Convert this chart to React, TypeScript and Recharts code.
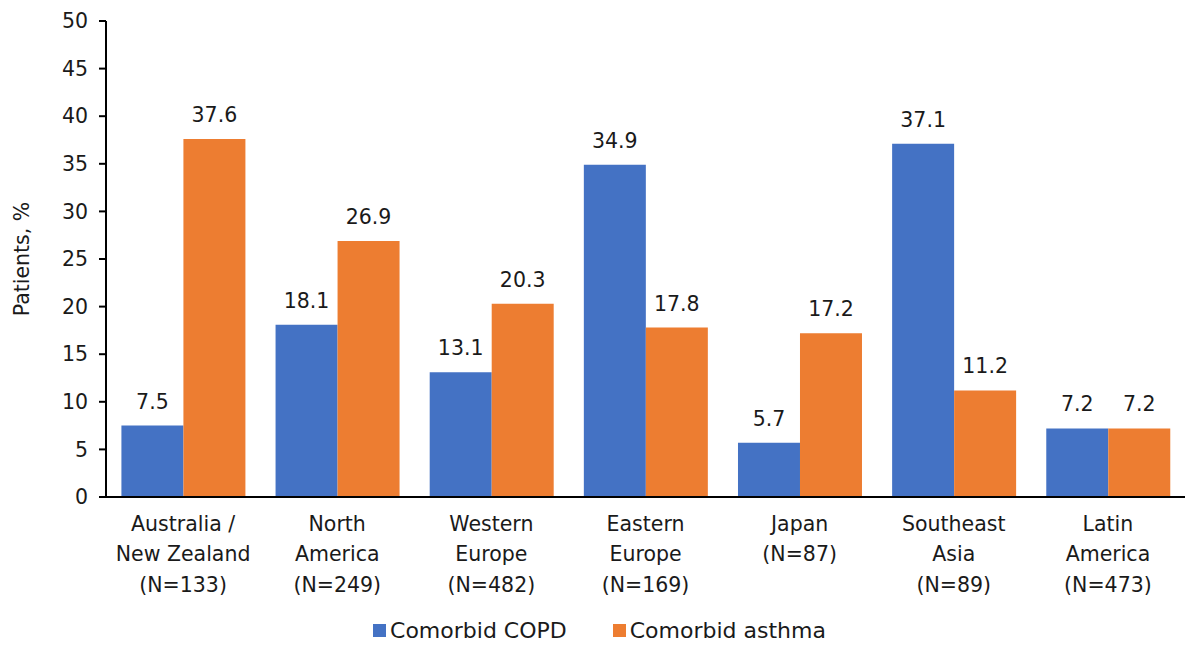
import React from 'react';
import { BarChart, Bar, XAxis, YAxis, Legend, LabelList, Label } from 'recharts';

const regions = [
  'Australia /|New Zealand|(N=133)',
  'North|America|(N=249)',
  'Western|Europe|(N=482)',
  'Eastern|Europe|(N=169)',
  'Japan|(N=87)',
  'Southeast|Asia|(N=89)',
  'Latin|America|(N=473)',
];
const copd = [7.5, 18.1, 13.1, 34.9, 5.7, 37.1, 7.2];
const asthma = [37.6, 26.9, 20.3, 17.8, 17.2, 11.2, 7.2];
const yTicks = [0, 5, 10, 15, 20, 25, 30, 35, 40, 45, 50];

const BLUE = '#4472C4';
const ORANGE = '#ED7D31';
const FONT = '"DejaVu Sans", Arial, sans-serif';
const FS = 20.5;

const data = regions.map((region, i) => ({
  region,
  copd: copd[i],
  asthma: asthma[i],
}));

// category labels are split on "|" into stacked lines
function RegionTick(props: any) {
  const { x, y, payload } = props;
  const lines = String(payload.value).split('|');
  return (
    <text x={x} y={y} textAnchor="middle" fill="#1a1a1a" fontSize={FS} fontFamily={FONT}>
      {lines.map((line, i) => (
        <tspan key={i} x={x} dy={i === 0 ? 25.5 : 30.5}>
          {line}
        </tspan>
      ))}
    </text>
  );
}

function LegendContent() {
  const items = [
    { label: 'Comorbid COPD', color: BLUE },
    { label: 'Comorbid asthma', color: ORANGE },
  ];
  return (
    <div
      style={{
        display: 'flex',
        justifyContent: 'center',
        gap: 46,
        paddingTop: 21,
        paddingLeft: 14,
        fontFamily: FONT,
        fontSize: 22,
        color: '#1a1a1a',
      }}
    >
      {items.map(item => (
        <span key={item.label} style={{ display: 'inline-flex', alignItems: 'center', gap: 4 }}>
          <span style={{ width: 13, height: 13, background: item.color, display: 'inline-block' }} />
          {item.label}
        </span>
      ))}
    </div>
  );
}

export default function App() {
  return (
    <div style={{ position: 'absolute', left: 0, top: 0, background: '#fff' }}>
      <BarChart
        width={1185}
        height={647}
        data={data}
        margin={{ top: 21, right: 0, left: 0, bottom: 0 }}
        barCategoryGap="10%"
        barGap={0}
      >
        <XAxis
          dataKey="region"
          tick={<RegionTick />}
          tickLine={false}
          axisLine={{ stroke: '#000', strokeWidth: 2 }}
          height={100}
          interval={0}
        />
        <YAxis
          width={106}
          domain={[0, 50]}
          ticks={yTicks}
          interval={0}
          tickSize={7}
          tickMargin={11}
          tick={{ fill: '#1a1a1a', fontSize: FS, fontFamily: FONT }}
          tickLine={{ stroke: '#000', strokeWidth: 2 }}
          axisLine={{ stroke: '#000', strokeWidth: 2 }}
        >
          <Label
            value="Patients, %"
            angle={-90}
            position="insideLeft"
            offset={22}
            style={{ fill: '#1a1a1a', fontSize: FS, fontFamily: FONT, textAnchor: 'middle' }}
          />
        </YAxis>
        <Legend verticalAlign="bottom" height={50} content={<LegendContent />} />
        <Bar dataKey="copd" name="Comorbid COPD" fill={BLUE} isAnimationActive={false}>
          <LabelList
            dataKey="copd"
            position="top"
            offset={17}
            style={{ fill: '#1a1a1a', fontSize: FS, fontFamily: FONT }}
          />
        </Bar>
        <Bar dataKey="asthma" name="Comorbid asthma" fill={ORANGE} isAnimationActive={false}>
          <LabelList
            dataKey="asthma"
            position="top"
            offset={17}
            style={{ fill: '#1a1a1a', fontSize: FS, fontFamily: FONT }}
          />
        </Bar>
      </BarChart>
    </div>
  );
}
